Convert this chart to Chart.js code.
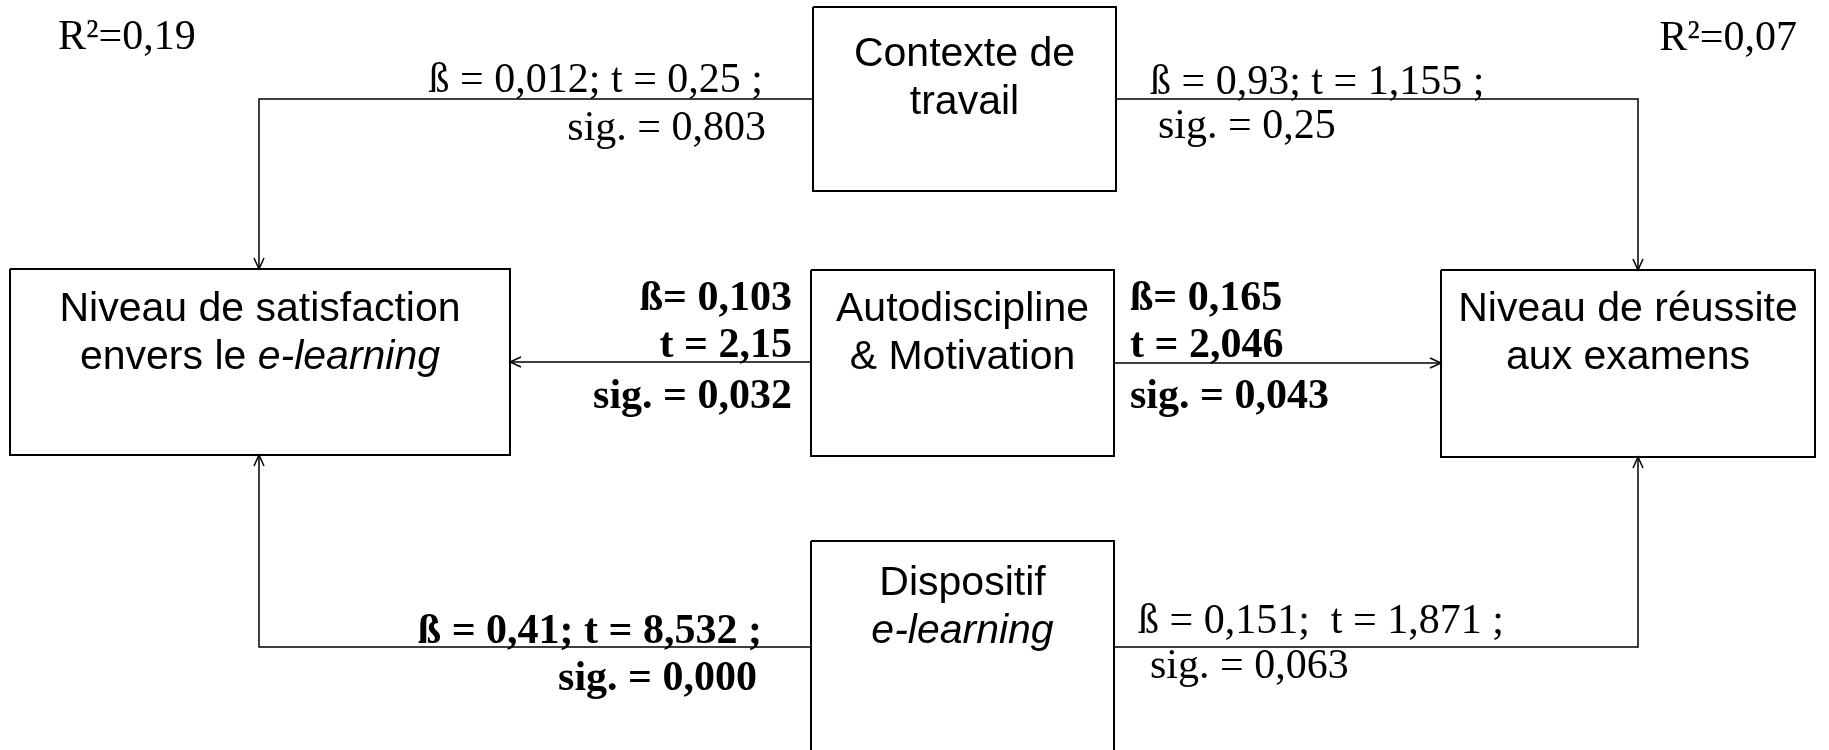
<!DOCTYPE html>
<html lang="fr">

<head>
    <meta charset="UTF-8">
    <title>Modèle - e-learning</title>
    <script src="https://cdn.jsdelivr.net/npm/chart.js@4.4.0/dist/chart.umd.min.js"></script>
    <style>
        body { margin: 0; background: #fff; }
        .cadre { width: 1829px; height: 750px; }
    </style>
</head>

<body>
    <div class="cadre">
        <canvas id="schema"></canvas>
    </div>

<script>

// --- données du schéma (unités du dessin : 0..1829 en x, 0..750 en y) ---

// variables (boîtes)
const noeudLignes = [
    ["Contexte de", "travail"],
    ["Niveau de satisfaction", "envers le *e-learning*"],
    ["Autodiscipline", "& Motivation"],
    ["Niveau de réussite", "aux examens"],
    ["Dispositif", "*e-learning*"]
];
const noeudX0 = [813, 10, 811, 1441, 811];
const noeudX1 = [1116, 510, 1114, 1815, 1114];
const noeudY0 = [7, 269, 270, 270, 541];
const noeudY1 = [191, 455, 456, 457, 752];

// liens (la flèche est au dernier point)
const lienX = [
    [813, 259, 259],
    [1116, 1638, 1638],
    [811, 510],
    [1114, 1441],
    [811, 259, 259],
    [1114, 1638, 1638]
];
const lienY = [
    [99, 99, 269],
    [99, 99, 270],
    [362, 362],
    [363, 363],
    [647, 647, 455],
    [647, 647, 457]
];

// coefficients
const coefTextes = [
    "ß = 0,012; t = 0,25 ;", "sig. = 0,803",
    "ß = 0,93; t = 1,155 ;", "sig. = 0,25",
    "ß= 0,103", "t = 2,15", "sig. = 0,032",
    "ß= 0,165", "t = 2,046", "sig. = 0,043",
    "ß = 0,41; t = 8,532 ;", "sig. = 0,000",
    "ß = 0,151;  t = 1,871 ;", "sig. = 0,063",
    "R²=0,19", "R²=0,07"
];
const coefGras = [false, false, false, false, true, true, true, true, true, true, true, true, false, false, false, false];

// placement des coefficients
const coefX = [763, 766, 1150, 1158, 792, 792, 792, 1130, 1130, 1130, 762, 757, 1138, 1150, 58, 1797];
const coefY = [92, 140, 94, 138, 310, 357, 408, 310, 357, 408, 643, 690, 633, 678, 49, 50];
const coefAlign = ["right", "right", "left", "left", "right", "right", "right", "left", "left", "left",
    "right", "right", "left", "left", "left", "right"];

const SANS = '"Liberation Sans", Arial, sans-serif';
const SERIF = '"Liberation Serif", "Times New Roman", serif';

// boîtes -> polygones fermés
let datasets = [];
for (let i = 0; i < noeudX0.length; i++) {
    datasets.push({
        data: [
            { x: noeudX0[i], y: noeudY0[i] },
            { x: noeudX1[i], y: noeudY0[i] },
            { x: noeudX1[i], y: noeudY1[i] },
            { x: noeudX0[i], y: noeudY1[i] },
            { x: noeudX0[i], y: noeudY0[i] }
        ],
        showLine: true,
        borderColor: '#000',
        borderWidth: 2,
        pointRadius: 0,
        clip: false
    });
}
for (let i = 0; i < lienX.length; i++) {
    datasets.push({
        data: lienX[i].map((x, k) => ({ x: x, y: lienY[i][k] })),
        showLine: true,
        borderColor: '#000',
        borderWidth: 1.5,
        pointRadius: 0,
        clip: false,
        fleche: true
    });
}

// texte avec parties en italique entre *...*
function ecrireLigne(ctx, texte, cx, y, taille) {
    let parts = texte.split('*');
    let largeurs = parts.map((p, k) => {
        ctx.font = (k % 2 ? 'italic ' : '') + taille + 'px ' + SANS;
        return ctx.measureText(p).width;
    });
    let total = largeurs.reduce((a, b) => a + b, 0);
    let x = cx - total / 2;
    ctx.textAlign = 'left';
    parts.forEach((p, k) => {
        ctx.font = (k % 2 ? 'italic ' : '') + taille + 'px ' + SANS;
        ctx.fillText(p, x, y);
        x += largeurs[k];
    });
}

const pluginSchema = {
    id: 'schema',
    afterDatasetsDraw(chart) {
        const ctx = chart.ctx;
        const sx = chart.scales.x, sy = chart.scales.y;
        ctx.save();
        ctx.fillStyle = '#000';
        ctx.strokeStyle = '#000';
        ctx.textBaseline = 'alphabetic';

        // pointes de flèche
        chart.data.datasets.forEach(ds => {
            if (!ds.fleche) return;
            let n = ds.data.length;
            let a = ds.data[n - 2], b = ds.data[n - 1];
            let ax = sx.getPixelForValue(a.x), ay = sy.getPixelForValue(a.y);
            let bx = sx.getPixelForValue(b.x), by = sy.getPixelForValue(b.y);
            let ang = Math.atan2(by - ay, bx - ax);
            let L = 11, W = 5;
            ctx.lineWidth = 1.5;
            ctx.beginPath();
            ctx.moveTo(bx - L * Math.cos(ang) + W * Math.sin(ang), by - L * Math.sin(ang) - W * Math.cos(ang));
            ctx.lineTo(bx, by);
            ctx.lineTo(bx - L * Math.cos(ang) - W * Math.sin(ang), by - L * Math.sin(ang) + W * Math.cos(ang));
            ctx.stroke();
        });

        // libellés des boîtes
        for (let i = 0; i < noeudLignes.length; i++) {
            let cx = sx.getPixelForValue((noeudX0[i] + noeudX1[i]) / 2);
            let lignes = noeudLignes[i];
            let base = i == 0 ? 66 : (i == 4 ? 595 : 321);
            lignes.forEach((l, k) => {
                ecrireLigne(ctx, l, cx, sy.getPixelForValue(base + k * 48), 41);
            });
        }

        // coefficients
        for (let i = 0; i < coefTextes.length; i++) {
            ctx.font = (coefGras[i] ? 'bold ' : '') + '42px ' + SERIF;
            ctx.textAlign = coefAlign[i];
            ctx.fillText(coefTextes[i], sx.getPixelForValue(coefX[i]), sy.getPixelForValue(coefY[i]));
        }
        ctx.restore();
    }
};

new Chart(document.getElementById('schema'), {
    type: 'scatter',
    data: { datasets: datasets },
    options: {
        responsive: true,
        maintainAspectRatio: false,
        animation: false,
        layout: { padding: 0 },
        plugins: { legend: { display: false }, tooltip: { enabled: false } },
        scales: {
            x: { type: 'linear', min: 0, max: 1829, display: false },
            y: { type: 'linear', min: 0, max: 750, reverse: true, display: false }
        }
    },
    plugins: [pluginSchema]
});
</script>
</body>

</html>
